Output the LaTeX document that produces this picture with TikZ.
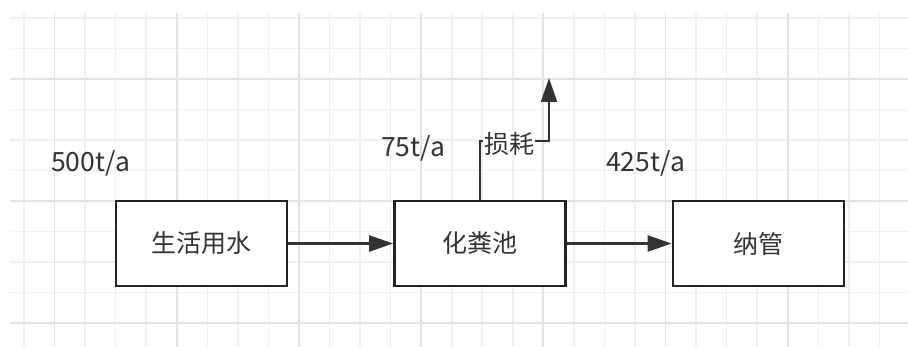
\documentclass[tikz,border=0pt]{standalone}
\usepackage{fontspec}
\setmainfont{Noto Sans CJK SC}
\usetikzlibrary{arrows.meta}
\definecolor{gridminor}{HTML}{EFEFEF}
\definecolor{gridmajor}{HTML}{E3E3E3}
\definecolor{ink}{HTML}{333333}
\definecolor{edge}{HTML}{222222}
\tikzset{
  gline/.style={draw=gridminor, line width=1.6pt},
  gmajor/.style={draw=gridmajor, line width=1.8pt},
  procbox/.style={draw=edge, line width=2.8pt, fill=white, minimum width=171pt, minimum height=85pt, inner sep=0pt, text=ink, font=\fontsize{25}{28}\selectfont},
  conn/.style={draw=ink, line width=2.4pt, -{Triangle[length=24pt,width=16pt]}},
  flowlabel/.style={text=ink, font=\fontsize{26.5}{30}\selectfont, inner sep=0pt, anchor=base west},
  losslabel/.style={text=ink, font=\fontsize{25}{28}\selectfont, fill=white, inner sep=1pt}
}
\begin{document}
\begin{tikzpicture}[x=1pt,y=-1pt]
\useasboundingbox (0,0) rectangle (908,347);
\fill[white] (0,0) rectangle (908,347);
% grid
\foreach \i in {0,...,29} {\draw[gline] ({24+30.55*\i},13) -- ({24+30.55*\i},347);}
\foreach \j in {0,...,10} {\draw[gline] (10,{18+30.5*\j}) -- (908,{18+30.5*\j});}
\foreach \i in {1,5,...,29} {\draw[gmajor] ({24+30.55*\i},13) -- ({24+30.55*\i},347);}
\foreach \j in {2,6,10} {\draw[gmajor] (10,{18+30.5*\j}) -- (908,{18+30.5*\j});}
% boxes
\node[procbox] (b1) at (201.5,243.5) {生活用水};
\node[procbox] (b2) at (480,243.5) {化粪池};
\node[procbox] (b3) at (758.5,243.5) {纳管};
% connectors
\draw[conn] (b1.east) -- (b2.west);
\draw[conn] (b2.east) -- (b3.west);
\coordinate (bend) at (549,141);
\coordinate (lossend) at (549,78);
\draw[conn] (b2.north) |- (bend) -- (lossend);
\node[losslabel] (loss) at (509,144) {损耗};
% flow labels
\node[flowlabel] (q1) at (51,172) {500t/a};
\node[flowlabel] (q2) at (381,157) {75t/a};
\node[flowlabel] (q3) at (606,172) {425t/a};
\end{tikzpicture}
\end{document}
